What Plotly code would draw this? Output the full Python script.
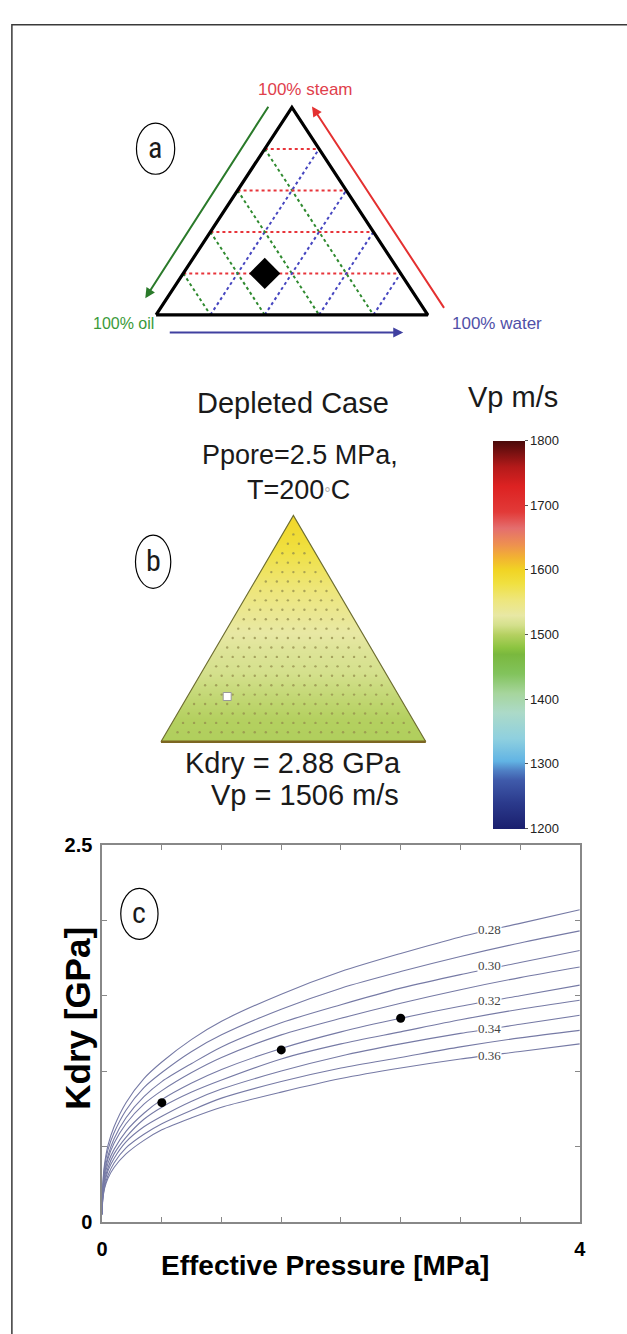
import plotly.graph_objects as go

W, H = 627, 1334


def px(x):
    return x / W


def py(y):
    return 1 - y / H


def xdom(p0, p1, r0, r1):
    return [px(p0 + r0 * (p1 - p0)), px(p0 + r1 * (p1 - p0))]


def ydom(p0, p1, r0, r1):
    return [py(p0 + r0 * (p1 - p0)), py(p0 + r1 * (p1 - p0))]


SANS = "Liberation Sans, Arial, sans-serif"
NARROW = "Liberation Sans Narrow, Roboto Condensed, Liberation Sans, sans-serif"
SERIF = "Liberation Serif, Times New Roman, serif"

# ---------------- data ----------------
# panel a : ternary reference diagram
grid_levels = [0.2, 0.4, 0.6, 0.8]
point_a_oil, point_a_water, point_a_steam = 0.5, 0.3, 0.2

# panel b : Vp over the ternary (by steam fraction)
steam_levels = [0.0, 0.1, 0.2, 0.3, 0.4, 0.5, 0.6, 0.7, 0.8, 0.9, 1.0]
vp_levels = [1498, 1500, 1507, 1515, 1522, 1532, 1545, 1558, 1572, 1586, 1596]
point_b_oil, point_b_water, point_b_steam = 0.65, 0.15, 0.2
kdry_b = 2.88
vp_b = 1506
cbar_ticks = [1200, 1300, 1400, 1500, 1600, 1700, 1800]
lattice_n = 24

# panel c : Kdry vs effective pressure
pressure = [0.0, 0.005, 0.02, 0.05, 0.1, 0.2, 0.35, 0.5, 0.75, 1.0, 1.5, 2.0, 2.5, 3.0, 3.5, 4.0]
porosity = [0.28, 0.29, 0.30, 0.31, 0.32, 0.33, 0.34, 0.35, 0.36]
kdry_curves = [
    [0.05, 0.24, 0.38, 0.51, 0.63, 0.79, 0.95, 1.06, 1.21, 1.33, 1.51, 1.66, 1.78, 1.89, 1.98, 2.07],
    [0.05, 0.23, 0.36, 0.48, 0.59, 0.74, 0.89, 0.99, 1.13, 1.24, 1.41, 1.55, 1.66, 1.76, 1.85, 1.93],
    [0.05, 0.21, 0.33, 0.44, 0.55, 0.69, 0.83, 0.93, 1.05, 1.16, 1.32, 1.44, 1.55, 1.64, 1.72, 1.80],
    [0.05, 0.20, 0.31, 0.42, 0.52, 0.65, 0.78, 0.87, 0.99, 1.09, 1.24, 1.35, 1.45, 1.54, 1.62, 1.69],
    [0.05, 0.19, 0.29, 0.39, 0.48, 0.60, 0.72, 0.81, 0.92, 1.01, 1.15, 1.26, 1.35, 1.43, 1.50, 1.57],
    [0.05, 0.17, 0.27, 0.36, 0.45, 0.56, 0.68, 0.76, 0.86, 0.94, 1.08, 1.18, 1.26, 1.34, 1.41, 1.47],
    [0.05, 0.16, 0.25, 0.34, 0.42, 0.53, 0.63, 0.70, 0.80, 0.88, 1.00, 1.10, 1.18, 1.25, 1.31, 1.37],
    [0.05, 0.15, 0.23, 0.31, 0.39, 0.49, 0.58, 0.65, 0.74, 0.82, 0.93, 1.02, 1.09, 1.16, 1.22, 1.27],
    [0.05, 0.14, 0.22, 0.29, 0.36, 0.45, 0.54, 0.61, 0.69, 0.76, 0.86, 0.95, 1.02, 1.08, 1.13, 1.18],
]
label_porosity = ["0.28", "0.30", "0.32", "0.34", "0.36"]
label_pressure = 3.24
label_kdry = [1.94, 1.70, 1.47, 1.28, 1.10]
obs_pressure = [0.5, 1.5, 2.5]
obs_kdry = [0.79, 1.14, 1.35]
x_ticks = [0, 0.5, 1, 1.5, 2, 2.5, 3, 3.5, 4]
x_ticktext = ["0", "", "", "", "", "", "", "", "4"]
y_ticks = [0, 0.5, 1, 1.5, 2, 2.5]
y_ticktext = ["0", "", "", "", "", "2.5"]

vp_colorscale = [
    [0.000, "#1a1f6e"], [0.067, "#2b3a8c"], [0.125, "#3f5aaa"], [0.150, "#4f7fc4"],
    [0.175, "#62b4e4"], [0.233, "#8fd0df"], [0.300, "#acdac8"], [0.350, "#a6d59c"],
    [0.400, "#82c35c"], [0.450, "#7ab83e"], [0.467, "#8cc440"], [0.500, "#b4d060"],
    [0.525, "#d4e08c"], [0.550, "#e8e8a4"], [0.592, "#eee67a"], [0.633, "#f0e040"],
    [0.667, "#f1d424"], [0.700, "#f2b232"], [0.733, "#ee9050"], [0.775, "#e46e6e"],
    [0.817, "#e23a38"], [0.883, "#dd2222"], [0.933, "#b41a1a"], [1.000, "#4a0a0a"],
]


def tern(oil, water, steam):
    return water + steam / 2.0, steam


fig = go.Figure()

# ---------------- panel b background (heatmap on exact triangle box) ----------------
fig.add_trace(go.Heatmap(
    x=[0, 1], y=steam_levels, z=[[v, v] for v in vp_levels],
    zmin=1200, zmax=1800, zsmooth="best", colorscale=vp_colorscale,
    xaxis="x2", yaxis="y2", hoverinfo="skip",
    colorbar=dict(x=px(497), xanchor="left", xpad=0, y=py(634), yanchor="middle",
                  ypad=0, len=388, lenmode="pixels", thickness=32,
                  thicknessmode="pixels", outlinewidth=0, tickvals=cbar_ticks,
                  ticks="outside", ticklen=3, tickcolor="#555",
                  tickfont=dict(family=SANS, size=13, color="#222")),
))

# ---------------- panel a ----------------
tri_x = [0, 1, 0.5, 0]
tri_y = [0, 0, 1, 0]
for lv in grid_levels:
    fig.add_trace(go.Scatter(x=[lv / 2, 1 - lv / 2], y=[lv, lv], mode="lines",
                             line=dict(color="#e8343a", width=2, dash="dot"),
                             xaxis="x3", yaxis="y3", hoverinfo="skip"))
    fig.add_trace(go.Scatter(x=[(1 - lv) / 2, 1 - lv], y=[1 - lv, 0], mode="lines",
                             line=dict(color="#2f8a2f", width=2, dash="dot"),
                             xaxis="x3", yaxis="y3", hoverinfo="skip"))
    fig.add_trace(go.Scatter(x=[lv, lv + (1 - lv) / 2], y=[0, 1 - lv], mode="lines",
                             line=dict(color="#4646c0", width=2, dash="dot"),
                             xaxis="x3", yaxis="y3", hoverinfo="skip"))
fig.add_trace(go.Scatter(x=tri_x, y=tri_y, mode="lines",
                         line=dict(color="black", width=3.2),
                         xaxis="x3", yaxis="y3", hoverinfo="skip"))
ax_, ay_ = tern(point_a_oil, point_a_water, point_a_steam)
fig.add_trace(go.Scatter(x=[ax_], y=[ay_], mode="markers",
                         marker=dict(symbol="diamond", size=24, color="black"),
                         xaxis="x3", yaxis="y3", hoverinfo="skip"))

# ---------------- panel b overlays ----------------
mask_fill = dict(mode="lines", fill="toself", fillcolor="white",
                 line=dict(width=0, color="white"), xaxis="x4", yaxis="y4",
                 hoverinfo="skip")
fig.add_trace(go.Scatter(x=[-0.2, 0, 0.5, 0.5, -0.2, -0.2], y=[0, 0, 1, 1.2, 1.2, 0], **mask_fill))
fig.add_trace(go.Scatter(x=[1.2, 1, 0.5, 0.5, 1.2, 1.2], y=[0, 0, 1, 1.2, 1.2, 0], **mask_fill))
fig.add_trace(go.Scatter(x=[-0.2, 1.2, 1.2, -0.2, -0.2], y=[-0.2, -0.2, 0, 0, -0.2], **mask_fill))

lx, ly = [], []
for i in range(1, lattice_n):
    for j in range(1, lattice_n - i):
        s = i / lattice_n
        w = j / lattice_n
        xx, yy = tern(1 - s - w, w, s)
        lx.append(xx)
        ly.append(yy)
fig.add_trace(go.Scatter(x=lx, y=ly, mode="markers",
                         marker=dict(size=2.4, color="#948e4c", opacity=0.75),
                         xaxis="x4", yaxis="y4", hoverinfo="skip"))
fig.add_trace(go.Scatter(x=[0, 0.5, 1], y=[0, 1, 0], mode="lines",
                         line=dict(color="#6e6e32", width=1.2),
                         xaxis="x4", yaxis="y4", hoverinfo="skip"))
fig.add_trace(go.Scatter(x=[0, 1], y=[0, 0], mode="lines",
                         line=dict(color="#7c6622", width=2.5),
                         xaxis="x4", yaxis="y4", hoverinfo="skip"))
bx_, by_ = tern(point_b_oil, point_b_water, point_b_steam)
fig.add_trace(go.Scatter(x=[bx_], y=[by_], mode="markers",
                         marker=dict(symbol="square", size=8, color="white",
                                     line=dict(color="#999", width=1)),
                         xaxis="x4", yaxis="y4", hoverinfo="skip"))

# ---------------- panel c ----------------
for k in kdry_curves:
    fig.add_trace(go.Scatter(x=pressure, y=k, mode="lines",
                             line=dict(color="rgb(118,122,165)", width=1.1, shape="spline",
                                       smoothing=0.8),
                             xaxis="x", yaxis="y", hoverinfo="skip"))
fig.add_trace(go.Scatter(x=obs_pressure, y=obs_kdry, mode="markers",
                         marker=dict(size=9, color="black"),
                         xaxis="x", yaxis="y", hoverinfo="skip"))

annotations = []
for t, yv in zip(label_porosity, label_kdry):
    annotations.append(dict(x=label_pressure, y=yv, xref="x", yref="y", text=t,
                            showarrow=False, bgcolor="white", borderpad=0,
                            font=dict(family=SERIF, size=13, color="#444")))

# ---------------- layout ----------------
PAD = 0.03
fig.update_layout(
    width=W, height=H, margin=dict(l=0, r=0, t=0, b=0),
    paper_bgcolor="white", plot_bgcolor="rgba(0,0,0,0)", showlegend=False,
    xaxis=dict(domain=[px(98), px(585)], range=[0, 4], tickvals=x_ticks,
               ticktext=x_ticktext, ticks="inside", ticklen=5, tickcolor="#888",
               showline=True, linecolor="#888", linewidth=1.5, mirror="ticks",
               showgrid=False, zeroline=False, ticklabelstandoff=9,
               tickfont=dict(family=SANS, size=20, color="black", weight="bold")),
    yaxis=dict(domain=[py(1231), py(848)], range=[0, 2.5], tickvals=y_ticks,
               ticktext=y_ticktext, ticks="inside", ticklen=5, tickcolor="#888",
               showline=True, linecolor="#888", linewidth=1.5, mirror="ticks",
               showgrid=False, zeroline=False, ticklabelstandoff=4,
               tickfont=dict(family=SANS, size=20, color="black", weight="bold")),
    xaxis2=dict(domain=[px(158), px(428)], range=[0, 1], visible=False),
    yaxis2=dict(domain=[py(743), py(513)], range=[0, 1], visible=False),
    xaxis3=dict(domain=xdom(153, 430, -PAD, 1 + PAD), range=[-PAD, 1 + PAD], visible=False),
    yaxis3=dict(domain=ydom(309, 98, -PAD, 1 + PAD), range=[-PAD, 1 + PAD], visible=False),
    xaxis4=dict(domain=xdom(158, 428, -PAD, 1 + PAD), range=[-PAD, 1 + PAD], visible=False),
    yaxis4=dict(domain=ydom(743, 513, -PAD, 1 + PAD), range=[-PAD, 1 + PAD], visible=False),
)


def txt(x, y, text, size, color="#1a1a1a", family=SANS, **kw):
    d = dict(x=px(x), y=py(y), xref="paper", yref="paper", text=text, showarrow=False,
             xanchor="center", yanchor="middle",
             font=dict(family=family, size=size, color=color))
    d.update(kw)
    return d


def arrow(x0, y0, x1, y1, color):
    return dict(x=px(x1), y=py(y1), ax=x0 - x1, ay=y0 - y1, xref="paper", yref="paper",
                axref="pixel", ayref="pixel", text="", showarrow=True, arrowhead=2,
                arrowsize=1, arrowwidth=2, arrowcolor=color)


annotations += [
    txt(305, 80, "100% steam", 17, color="#e0404c"),
    txt(120, 318, "100% oil", 16, color="#3a9a3a"),
    txt(501, 318, "100% water", 17, color="#5050a8"),
    arrow(266, 99, 142, 292, "#2a7a2a"),
    arrow(445, 300, 312, 97, "#e43030"),
    arrow(170, 327, 405, 327, "#4040a0"),
    txt(152, 139, "a", 30, family=NARROW),
    txt(150, 559, "b", 30, family=NARROW),
    txt(136, 917, "c", 30, family=NARROW),
    txt(293, 399, "Depleted Case", 29),
    txt(300, 451, "Ppore=2.5 MPa,", 27),
    txt(298, 487, "T=200<span style='color:#b0b0b0;font-size:16px'>°</span>C", 27),
    txt(293, 765, f"Kdry = {kdry_b:.2f} GPa", 29),
    txt(305, 797, f"Vp = {vp_b} m/s", 29),
    txt(517, 392, "Vp m/s", 29),
    txt(325, 1276, "<b>Effective Pressure [MPa]</b>", 28, color="black"),
    txt(72, 1024, "<b>Kdry [GPa]</b>", 35, color="black", textangle=-90),
]
fig.update_layout(annotations=annotations)

shapes = [
    dict(type="rect", xref="paper", yref="paper", x0=px(6), x1=px(660), y0=py(1360),
         y1=py(14), line=dict(color="#3a3a3a", width=1.5), layer="above"),
    dict(type="circle", xref="paper", yref="paper", x0=px(133), x1=px(172), y0=py(166),
         y1=py(114), line=dict(color="black", width=1.2), layer="above"),
    dict(type="circle", xref="paper", yref="paper", x0=px(132), x1=px(168), y0=py(587),
         y1=py(533), line=dict(color="black", width=1.2), layer="above"),
    dict(type="circle", xref="paper", yref="paper", x0=px(117), x1=px(155), y0=py(944),
         y1=py(892), line=dict(color="black", width=1.2), layer="above"),
]
fig.update_layout(shapes=shapes)

fig.write_html("out.html")
